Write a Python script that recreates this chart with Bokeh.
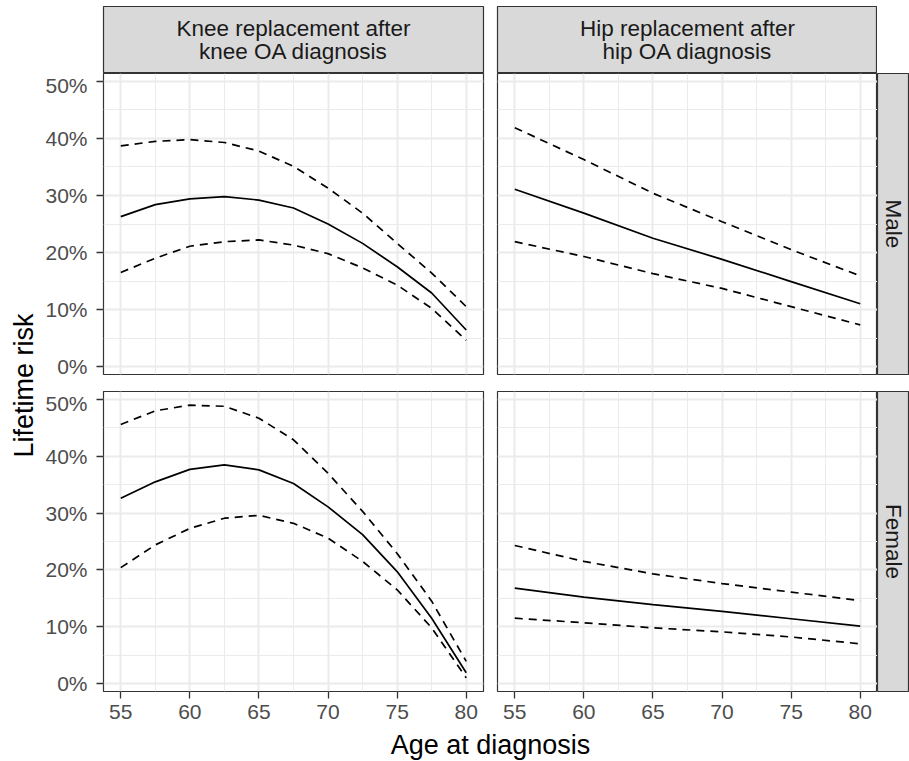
from math import pi
from bokeh.plotting import figure
from bokeh.layouts import row, column
from bokeh.models import Range1d, FixedTicker, PrintfTickFormatter
from bokeh.core.properties import value
from bokeh.embed import file_html
from bokeh.resources import INLINE

# ---------------- data (lifetime risk, %) ----------------
age_knee = [55, 57.5, 60, 62.5, 65, 67.5, 70, 72.5, 75, 77.5, 80]
male_knee_est = [26.3, 28.4, 29.4, 29.8, 29.2, 27.8, 25.0, 21.6, 17.5, 12.9, 6.4]
male_knee_lo = [16.5, 19.0, 21.1, 21.9, 22.2, 21.3, 19.8, 17.3, 14.3, 10.2, 4.6]
male_knee_hi = [38.7, 39.5, 39.8, 39.3, 37.8, 35.1, 31.3, 26.9, 21.6, 16.4, 10.5]
female_knee_est = [32.6, 35.5, 37.7, 38.5, 37.6, 35.2, 31.1, 26.2, 19.7, 11.5, 1.9]
female_knee_lo = [20.4, 24.4, 27.3, 29.1, 29.6, 28.2, 25.6, 21.5, 16.5, 9.8, 1.0]
female_knee_hi = [45.6, 48.0, 49.0, 48.8, 46.7, 42.9, 37.0, 30.3, 22.9, 14.5, 3.9]

age_hip = [55, 60, 65, 70, 75, 80]
male_hip_est = [31.1, 26.9, 22.5, 18.8, 14.9, 11.0]
male_hip_lo = [21.9, 19.3, 16.3, 13.7, 10.5, 7.3]
male_hip_hi = [41.9, 36.3, 30.4, 25.4, 20.5, 15.9]
female_hip_est = [16.8, 15.2, 13.9, 12.7, 11.4, 10.1]
female_hip_lo = [11.5, 10.7, 9.8, 9.1, 8.2, 7.0]
female_hip_hi = [24.3, 21.5, 19.3, 17.6, 16.1, 14.6]

col_labels = ["Knee replacement after\nknee OA diagnosis", "Hip replacement after\nhip OA diagnosis"]
row_labels = ["Male", "Female"]
x_title = "Age at diagnosis"
y_title = "Lifetime risk"

x_ticks = [55, 60, 65, 70, 75, 80]
x_minor = [57.5, 62.5, 67.5, 72.5, 77.5]
y_ticks = [0, 10, 20, 30, 40, 50]
y_minor = [5, 15, 25, 35, 45]

# ---------------- style ----------------
FONT = "Liberation Sans"
GRID = "#ebebeb"
BORDER = "#333333"
STRIP = "#d9d9d9"

all_series = [male_knee_est, male_knee_lo, male_knee_hi, female_knee_est, female_knee_lo,
              female_knee_hi, male_hip_est, male_hip_lo, male_hip_hi, female_hip_est,
              female_hip_lo, female_hip_hi]
ymin = min(min(s) for s in all_series)
ymax = max(max(s) for s in all_series)
ypad = (ymax - ymin) * 0.05
xmin, xmax = min(age_knee), max(age_knee)
xpad = (xmax - xmin) * 0.05


def make_panel(ages, est, lo, hi, show_x, show_y, width, height, mbl, mbr, mbb):
    p = figure(width=width, height=height, title=None,
               x_range=Range1d(xmin - xpad, xmax + xpad),
               y_range=Range1d(ymin - ypad, ymax + ypad),
               x_axis_location="below" if show_x else None,
               y_axis_location="left" if show_y else None,
               toolbar_location=None, output_backend="svg",
               min_border_left=mbl, min_border_right=mbr,
               min_border_top=0, min_border_bottom=mbb)
    p.background_fill_color = "white"
    p.border_fill_color = "white"
    p.outline_line_color = BORDER
    p.outline_line_width = 1.2
    p.xgrid.ticker = FixedTicker(ticks=x_ticks, minor_ticks=x_minor)
    p.ygrid.ticker = FixedTicker(ticks=y_ticks, minor_ticks=y_minor)
    for g in p.grid:
        g.grid_line_color = GRID
        g.grid_line_width = 2
        g.minor_grid_line_color = GRID
        g.minor_grid_line_width = 1
    axes = []
    if show_x:
        ax = p.xaxis[0]
        ax.ticker = FixedTicker(ticks=x_ticks)
        ax.major_label_standoff = 6
        axes.append(ax)
    if show_y:
        ay = p.yaxis[0]
        ay.ticker = FixedTicker(ticks=y_ticks)
        ay.formatter = PrintfTickFormatter(format="%d%%")
        ay.major_label_standoff = 9
        axes.append(ay)
    for a in axes:
        a.axis_line_color = None
        a.major_tick_line_color = BORDER
        a.major_tick_line_width = 1.3
        a.major_tick_out = 7
        a.major_tick_in = 0
        a.minor_tick_line_color = None
        a.major_label_text_font = FONT
        a.major_label_text_font_size = "21px"
        a.major_label_text_color = "#4d4d4d"
    p.line(ages, est, line_color="black", line_width=1.7)
    p.line(ages, lo, line_color="black", line_width=1.7, line_dash="8 6")
    p.line(ages, hi, line_color="black", line_width=1.7, line_dash="8 6")
    return p


def make_strip(label, width, height, mbl, mbr, mbt, mbb, vertical):
    s = figure(width=width, height=height, title=None,
               x_range=Range1d(0, 1), y_range=Range1d(0, 1),
               x_axis_location=None, y_axis_location=None,
               toolbar_location=None, output_backend="svg",
               min_border_left=mbl, min_border_right=mbr,
               min_border_top=mbt, min_border_bottom=mbb)
    s.grid.visible = False
    s.background_fill_color = STRIP
    s.border_fill_color = "white"
    s.outline_line_color = BORDER
    s.outline_line_width = 1.2
    s.text(x=[0.5], y=[0.5], text=[label], angle=-pi / 2 if vertical else 0,
           text_align="center", text_baseline="middle", text_font=value(FONT),
           text_font_size="22.5px", text_color="#1a1a1a", text_line_height=0.95)
    return s


def make_title(label, width, height, x, y, angle):
    t = figure(width=width, height=height, title=None,
               x_range=Range1d(0, width), y_range=Range1d(0, height),
               x_axis_location=None, y_axis_location=None,
               toolbar_location=None, output_backend="svg", min_border=0)
    t.grid.visible = False
    t.outline_line_color = None
    t.background_fill_color = "white"
    t.border_fill_color = "white"
    t.text(x=[x], y=[y], text=[label], angle=angle, text_align="center",
           text_baseline="middle", text_font=value(FONT), text_font_size="27px",
           text_color="black")
    return t


# layout sizes (pixels)
YT_W, LW, RW, SW = 40, 450, 387, 32
STRIP_H, TOP_H, BOT_H, XT_H = 73, 318, 340, 30
L_BORDER, GAP_HALF = 63, 7
TOP_GAP, BOT_AXIS, STRIP_TOP = 17, 40, 6

strip_knee = make_strip(col_labels[0], LW, STRIP_H, L_BORDER, GAP_HALF, STRIP_TOP, 0, False)
strip_hip = make_strip(col_labels[1], RW, STRIP_H, GAP_HALF, 0, STRIP_TOP, 0, False)

p_mk = make_panel(age_knee, male_knee_est, male_knee_lo, male_knee_hi, False, True, LW, TOP_H, L_BORDER, GAP_HALF, TOP_GAP)
p_mh = make_panel(age_hip, male_hip_est, male_hip_lo, male_hip_hi, False, False, RW, TOP_H, GAP_HALF, 0, TOP_GAP)
s_male = make_strip(row_labels[0], SW, TOP_H, 0, 0, 0, TOP_GAP, True)

p_fk = make_panel(age_knee, female_knee_est, female_knee_lo, female_knee_hi, True, True, LW, BOT_H, L_BORDER, GAP_HALF, BOT_AXIS)
p_fh = make_panel(age_hip, female_hip_est, female_hip_lo, female_hip_hi, True, False, RW, BOT_H, GAP_HALF, 0, BOT_AXIS)
s_female = make_strip(row_labels[1], SW, BOT_H, 0, 0, 0, BOT_AXIS, True)

total_h = STRIP_H + TOP_H + BOT_H + XT_H
x_center = (L_BORDER + LW + RW) / 2
x_t = make_title(x_title, LW + RW + SW, XT_H, x_center, 17, 0)
y_t = make_title(y_title, YT_W, total_h, 23, total_h - 385, pi / 2)

layout = row(y_t, column(row(strip_knee, strip_hip), row(p_mk, p_mh, s_male),
                         row(p_fk, p_fh, s_female), x_t))

open("out.html", "w").write(file_html(layout, INLINE))
